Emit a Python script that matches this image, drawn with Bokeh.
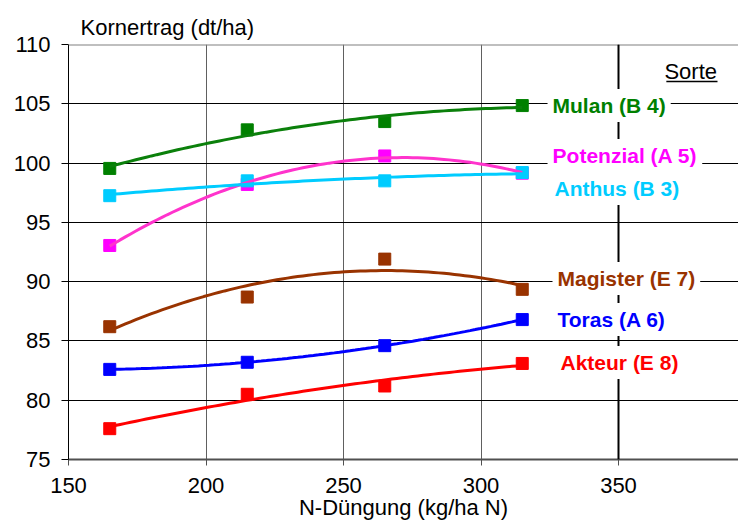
import numpy as np
from bokeh.plotting import figure
from bokeh.models import Label, Span, FixedTicker, Range1d
from bokeh.embed import file_html
from bokeh.resources import INLINE

# ---- data ----
n_rate = [165, 215, 265, 315]
names = ["Mulan (B 4)", "Potenzial (A 5)", "Anthus (B 3)",
         "Magister (E 7)", "Toras (A 6)", "Akteur (E 8)"]
mulan = [99.55, 102.8, 103.5, 104.85]
potenzial = [93.05, 98.2, 100.6, 99.15]
anthus = [97.25, 98.5, 98.5, 99.2]
magister = [86.2, 88.7, 91.9, 89.35]
toras = [82.6, 83.2, 84.6, 86.8]
akteur = [77.6, 80.5, 81.2, 83.1]
series = [mulan, potenzial, anthus, magister, toras, akteur]
marker_colors = ["#008000", "#FF00FF", "#00CCFF", "#993300", "#0000FF", "#FF0000"]
line_colors = ["#0B800B", "#FF33CC", "#00CCFF", "#993300", "#0000FF", "#FF0000"]
x_ticks = [150, 200, 250, 300, 350]
y_ticks = [75, 80, 85, 90, 95, 100, 105, 110]

FONT = "Liberation Sans"

p = figure(width=738, height=524, output_backend="svg", toolbar_location=None,
           x_range=Range1d(150, 150 + 670 / 2.75), y_range=Range1d(75, 110),
           min_border_left=68, min_border_right=0, min_border_top=44,
           min_border_bottom=65,
           title="Kornertrag (dt/ha)", x_axis_label="N-Düngung (kg/ha N)")
p.outline_line_color = None
p.background_fill_color = "white"

p.title.text_font = FONT
p.title.text_font_size = "22px"
p.title.text_font_style = "normal"
p.title.text_color = "black"
p.title.align = "left"
p.title.offset = 12
p.title.standoff = 9

# axes
for ax in (p.xaxis[0], p.yaxis[0]):
    ax.major_label_text_font = FONT
    ax.major_label_text_font_size = "22px"
    ax.major_label_text_color = "black"
    ax.minor_tick_line_color = None
    ax.major_tick_in = 0
p.xaxis.ticker = FixedTicker(ticks=x_ticks)
p.yaxis.ticker = FixedTicker(ticks=y_ticks)
p.xaxis.axis_line_color = "#505050"
p.xaxis.axis_line_width = 2
p.xaxis.major_tick_line_color = "#505050"
p.xaxis.major_tick_out = 6
p.xaxis.major_label_standoff = 12
p.xaxis.axis_label_text_font = FONT
p.xaxis.axis_label_text_font_size = "22px"
p.xaxis.axis_label_text_font_style = "normal"
p.xaxis.axis_label_text_color = "black"
p.xaxis.axis_label_standoff = -1
p.yaxis.axis_line_color = "black"
p.yaxis.major_tick_line_color = "black"
p.yaxis.major_tick_out = 7
p.yaxis.major_label_standoff = 11

p.xgrid.grid_line_color = "#606060"
p.xgrid.grid_line_width = 1
p.ygrid.grid_line_color = "black"
p.ygrid.grid_line_width = 1

p.add_layout(Span(location=110, dimension="width", line_color="#808080", line_width=2))
p.add_layout(Span(location=350, dimension="height", line_color="black", line_width=2))

# markers then trend curves (2nd-order polynomial fits)
for ys, mc in zip(series, marker_colors):
    p.scatter(n_rate, ys, marker="square", size=12, color=mc)
for ys, lc in zip(series, line_colors):
    coef = np.polyfit(n_rate, ys, 2)
    xs = np.linspace(n_rate[0], n_rate[-1], 80)
    p.line(xs, np.polyval(coef, xs), line_color=lc, line_width=3)

# series labels
label_x = [324.2, 324.2, 324.9, 326.0, 326.0, 327.1]
label_y = [104.86, 100.64, 97.86, 90.27, 86.81, 83.18]
for nm, lx, ly, c in zip(names, label_x, label_y, marker_colors):
    p.add_layout(Label(x=lx, y=ly, text=nm, text_font=FONT, text_font_size="21px",
                       text_font_style="bold", text_color=c, text_baseline="middle",
                       background_fill_color="white", padding=5))

# Sorte heading with underline
p.add_layout(Label(x=366.7, y=107.72, text="Sorte", text_font=FONT,
                   text_font_size="22px", text_color="black",
                   text_baseline="middle"))
p.segment(x0=[367.4], y0=[106.88], x1=[386.0], y1=[106.88], line_color="black", line_width=1.5)

open("out.html", "w").write(file_html(p, INLINE))
